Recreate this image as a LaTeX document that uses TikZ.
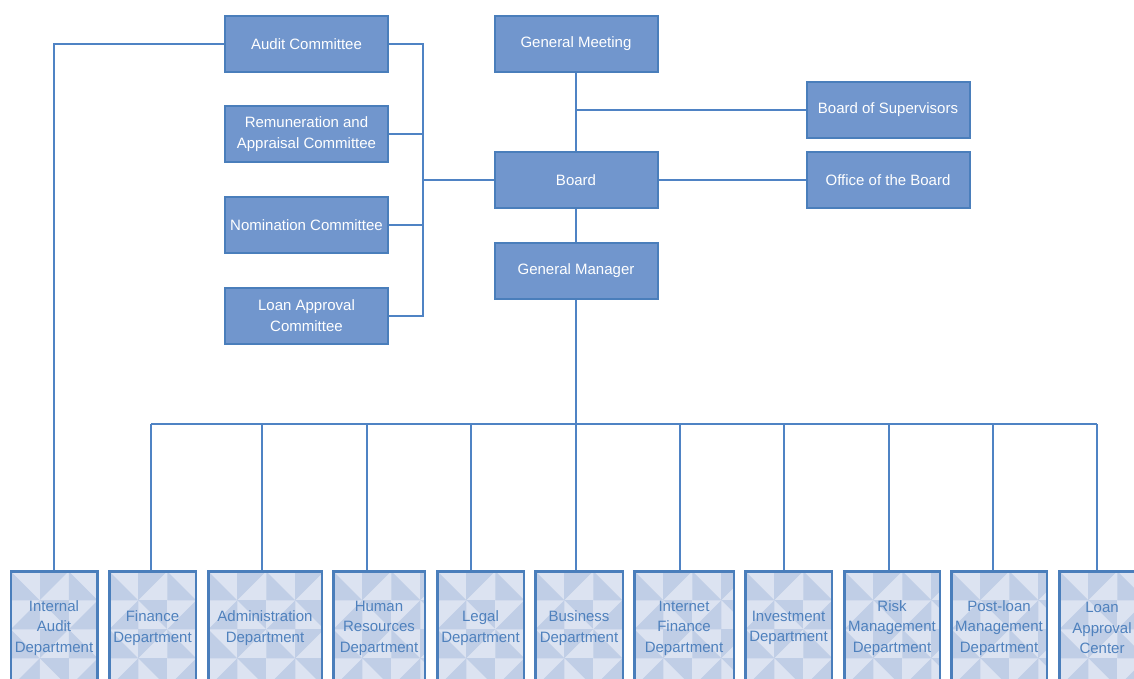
\documentclass[tikz,border=0pt]{standalone}
\usepackage{fontspec}
\setmainfont{Liberation Sans}
\usetikzlibrary{calc}
\definecolor{topfill}{RGB}{113,150,205}
\definecolor{boxline}{RGB}{74,126,187}
\definecolor{conline}{RGB}{79,131,196}
\definecolor{plight}{RGB}{220,227,241}
\definecolor{pdark}{RGB}{192,206,230}
\definecolor{depttext}{RGB}{79,129,189}
\tikzset{
  topbox/.style={draw=boxline, line width=2pt, fill=topfill, text=white,
    align=center, inner sep=0pt, minimum width=163pt, minimum height=56pt,
    font=\fontsize{15}{21}\selectfont},
  deptbox/.style={draw=boxline, line width=2.5pt, fill=plight, text=depttext,
    align=center, inner sep=0pt, minimum height=113.5pt,
    font=\fontsize{15}{20.5}\selectfont,
    path picture={
      \foreach \i in {0,...,4}{
        \foreach \j in {0,...,4}{
          \pgfmathtruncatemacro{\cc}{mod(\i,2)}
          \pgfmathtruncatemacro{\oo}{mod(\i+\j,2)}
          \coordinate (pp) at ($(path picture bounding box.north west)+(\i*29,\j*29)$);
          \ifnum\cc=1
            \fill[pdark] (pp) rectangle ++(29,29);
            \def\tc{plight}
          \else
            \def\tc{pdark}
          \fi
          \ifnum\oo=0
            \fill[\tc] (pp) -- ++(0,29) -- ++(29,0) -- cycle;
          \else
            \fill[\tc] ($(pp)+(29,0)$) -- ++(0,29) -- ++(-29,0) -- cycle;
          \fi
        }
      }
    }},
  conn/.style={draw=conline, line width=1.3pt}
}
\begin{document}
\begin{tikzpicture}[x=1pt,y=-1pt]
\useasboundingbox (0,0) rectangle (1134,679);
\clip (0,0) rectangle (1134,679);

% top boxes
\node[topbox] (a1) at (306.5,44) {Audit Committee};
\node[topbox] (a2) at (306.5,134) {Remuneration and\\Appraisal Committee};
\node[topbox] (a3) at (306.5,225) {Nomination Committee};
\node[topbox] (a4) at (306.5,316) {Loan Approval\\Committee};
\node[topbox] (gm) at (576,44) {General Meeting};
\node[topbox] (board) at (576,180) {Board};
\node[topbox] (mgr) at (576,271) {General Manager};
\node[topbox] (sup) at (888,110) {Board of Supervisors};
\node[topbox] (off) at (888,180) {Office of the Board};

% departments
\node[deptbox, minimum width=86.5pt] (d1) at (54,628) {Internal\\Audit\\Department};
\node[deptbox, minimum width=86.5pt] (d2) at (152.5,628) {Finance\\Department};
\node[deptbox, minimum width=113.5pt] (d3) at (265,628) {Administration\\Department};
\node[deptbox, minimum width=91.5pt] (d4) at (379,628) {Human\\Resources\\Department};
\node[deptbox, minimum width=86.5pt] (d5) at (480.5,628) {Legal\\Department};
\node[deptbox, minimum width=87.5pt] (d6) at (579,628) {Business\\Department};
\node[deptbox, minimum width=99.5pt] (d7) at (684,628) {Internet\\Finance\\Department};
\node[deptbox, minimum width=86.5pt] (d8) at (788.5,628) {Investment\\Department};
\node[deptbox, minimum width=95.5pt] (d9) at (892,628) {Risk\\Management\\Department};
\node[deptbox, minimum width=95.5pt] (d10) at (999,628) {Post-loan\\Management\\Department};
\node[deptbox, minimum width=85.5pt] (d11) at (1102,628) {Loan\\Approval\\Center};

% committee bus
\coordinate (cb) at (423,180);
\path[conn] (a1.east) -| (cb);
\path[conn] (a2.east) -| (cb);
\path[conn] (a3.east) -| (cb);
\path[conn] (a4.east) -| (cb);
\path[conn] (cb) -- (board.west);

% board connections
\path[conn] (gm.south) -- (board.north);
\coordinate (sv) at (576,110);
\path[conn] (sv) -- (sup.west);
\path[conn] (board.east) -- (off.west);
\path[conn] (board.south) -- (mgr.north);

% audit line
\path[conn] (a1.west) -| (d1.north);

% department bus
\coordinate (t2) at (151,424);
\coordinate (t3) at (262,424);
\coordinate (t4) at (367,424);
\coordinate (t5) at (471,424);
\coordinate (t6) at (576,424);
\coordinate (t7) at (680,424);
\coordinate (t8) at (784,424);
\coordinate (t9) at (889,424);
\coordinate (t10) at (993,424);
\coordinate (t11) at (1097,424);
\path[conn] (mgr.south) -- (t6);
\path[conn] (t2) -- (t11);
\foreach \k in {2,...,11}{
  \path[conn] (t\k) -- (t\k |- d\k.north);
}
\end{tikzpicture}
\end{document}
